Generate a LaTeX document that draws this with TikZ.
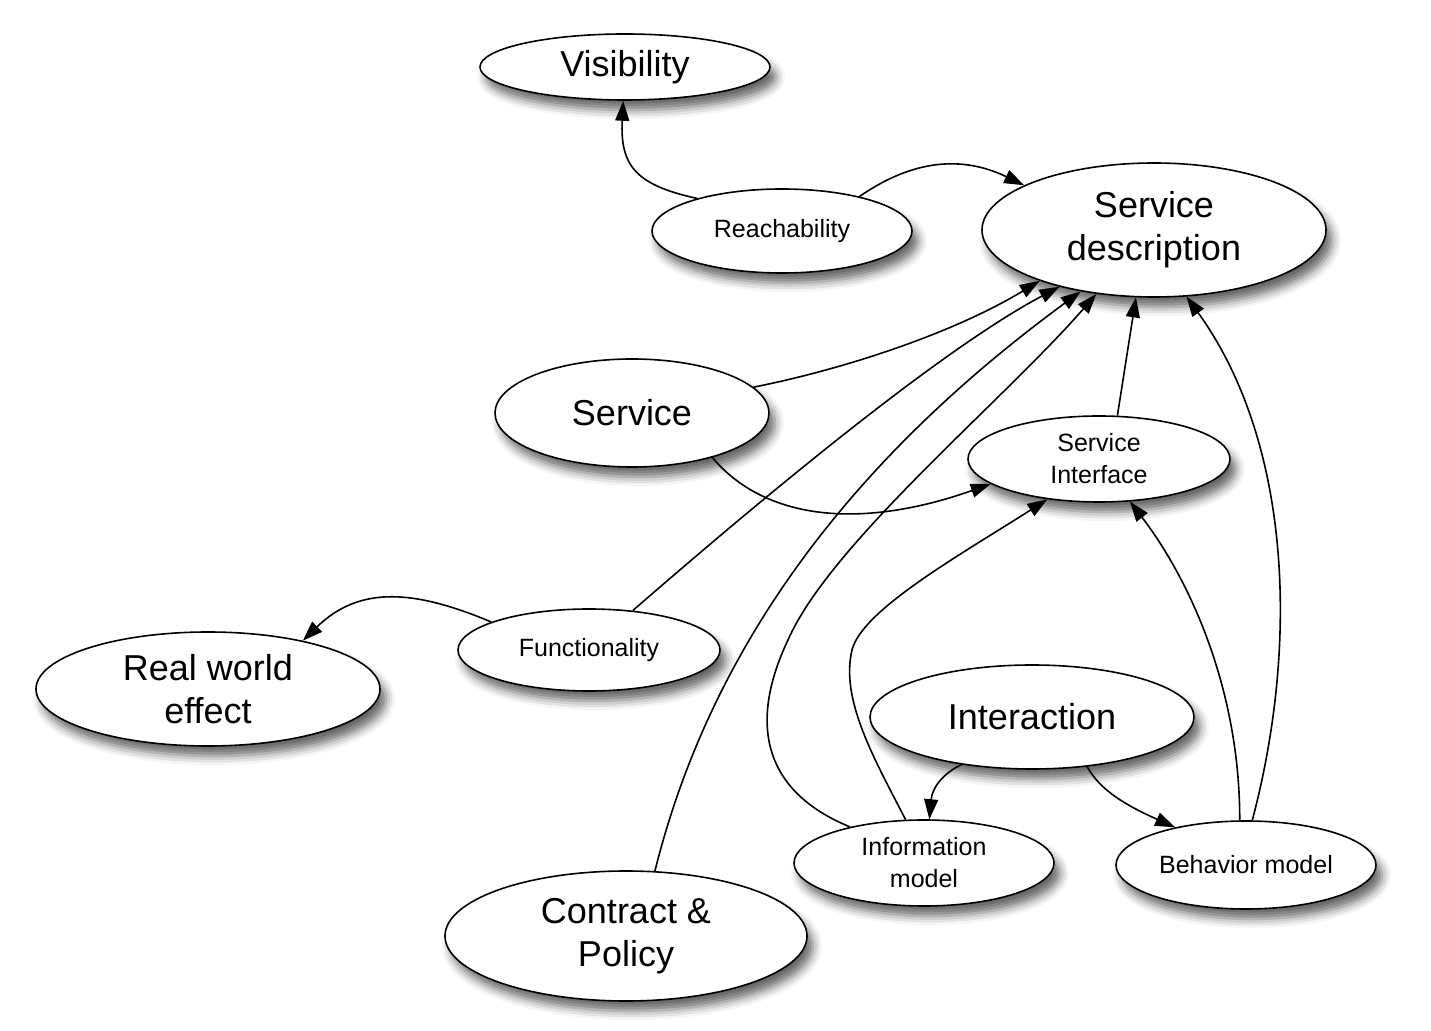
\documentclass[tikz,border=0pt]{standalone}
\usepackage{fontspec}
\setmainfont{Liberation Sans}
\usetikzlibrary{arrows.meta, shapes.geometric, shadows.blur}

\begin{document}
\begin{tikzpicture}[
    x=0.5pt, y=-0.5pt,
    >={Triangle[length=10pt,width=7pt]},
    % Node style: ellipses, white fill, black outline, soft shadow
    nodeStyle/.style={
        ellipse, draw, line width=0.8pt, fill=white,
        align=center, inner sep=0pt,
        blur shadow={shadow xshift=3pt, shadow yshift=-5pt,
            shadow blur radius=4.5pt, shadow opacity=60}
    },
    % Big and small labels
    bigNode/.style={nodeStyle, font=\fontsize{18pt}{21.5pt}\selectfont},
    smallNode/.style={nodeStyle, font=\fontsize{12.5pt}{16pt}\selectfont},
    % Plain connectors
    edgeStyle/.style={->, line width=0.8pt}
]
\useasboundingbox (0,0) rectangle (1431,1031);

%--- Top of the picture ---
\node[bigNode, minimum width=145pt, minimum height=33pt] (visibility) at (625,67) {Visibility};
\node[smallNode, minimum width=130pt, minimum height=42pt] (reachability) at (782,231) {Reachability};
\node[bigNode, minimum width=172pt, minimum height=67pt] (description) at (1154,230) {Service\\description};

%--- Middle ---
\node[bigNode, minimum width=137pt, minimum height=54pt] (service) at (632,413) {Service};
\node[smallNode, minimum width=131pt, minimum height=43pt] (interface) at (1099,459) {Service\\Interface};
\node[smallNode, minimum width=131pt, minimum height=41pt] (functionality) at (589,650) {Functionality};
\node[bigNode, minimum width=172pt, minimum height=57pt] (effect) at (208,689) {Real world\\effect};
\node[bigNode, minimum width=162pt, minimum height=52pt] (interaction) at (1032,717) {Interaction};

%--- Bottom row ---
\node[smallNode, minimum width=130pt, minimum height=43pt] (information) at (924,863) {Information\\model};
\node[smallNode, minimum width=130pt, minimum height=44pt] (behavior) at (1246,865) {Behavior model};
\node[bigNode, minimum width=181pt, minimum height=65pt] (contract) at (626,936) {Contract \&\\Policy};

%-----------------------
%        Edges
%-----------------------
% (1) Reachability -> Visibility
\draw[edgeStyle] (reachability.159) .. controls (635,185) and (620,165) .. (visibility.267);

% (2) Reachability -> Service description
\draw[edgeStyle] (reachability.24) .. controls (905,165) and (955,152) .. (description.161);

% (3) Service -> Service description
\draw[edgeStyle] (service.12) .. controls (840,370) and (950,335) .. (description.204);

% (4) Functionality -> Service description
\draw[edgeStyle] (functionality.42) .. controls (760,500) and (940,350) .. (description.211);

% (5) Contract & Policy -> Service description
\draw[edgeStyle] (contract.66) .. controls (700,690) and (810,490) .. (description.220);

% (6) Information model -> Service description
\draw[edgeStyle] (information.154) .. controls (760,790) and (750,720) .. (788,640)
  .. controls (830,544) and (1002,402) .. (description.228);

% (7) Information model -> Service Interface
\draw[edgeStyle] (information.113) .. controls (875,760) and (840,700) .. (852,650)
  .. controls (862,610) and (960,555) .. (interface.218);

% (8) Service -> Service Interface
\draw[edgeStyle] (service.331) .. controls (765,520) and (860,530) .. (interface.193);

% (9) Service Interface -> Service description
\draw[edgeStyle] (interface.67) -- (description.255);

% (10) Behavior model -> Service Interface
\draw[edgeStyle] (behavior.98) .. controls (1240,690) and (1190,580) .. (interface.306);

% (11) Behavior model -> Service description
\draw[edgeStyle] (behavior.82) .. controls (1300,640) and (1290,440) .. (description.296);

% (12) Interaction -> Information model
\draw[edgeStyle] (interaction.214) .. controls (940,775) and (932,790) .. (information.83);

% (13) Interaction -> Behavior model
\draw[edgeStyle] (interaction.318) .. controls (1100,790) and (1125,805) .. (behavior.152);

% (14) Functionality -> Real world effect
\draw[edgeStyle] (functionality.164) .. controls (415,590) and (360,585) .. (effect.27);
\end{tikzpicture}
\end{document}
